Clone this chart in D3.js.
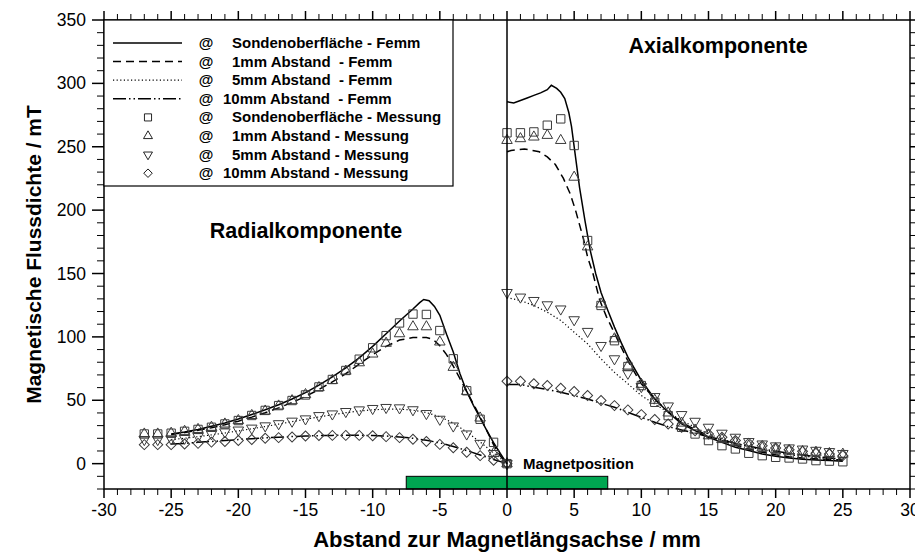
<!DOCTYPE html>
<html>
<head>
<meta charset="utf-8">
<script src="https://cdn.jsdelivr.net/npm/d3@7"></script>
<style>
  html, body { margin: 0; padding: 0; background: #fff; }
  svg { display: block; font-family: "Liberation Sans", Arial, sans-serif; }
</style>
</head>
<body>
<svg id="chart" width="915" height="553"></svg>
<script>
// ---- Measurement positions (mm) ----
const radialX = [-27,-26,-25,-24,-23,-22,-21,-20,-19,-18,-17,-16,-15,-14,-13,-12,-11,-10,-9,-8,-7,-6,-5,-4,-3,-2,-1,0];
const axialX  = [0,1,2,3,4,5,6,7,8,9,10,11,12,13,14,15,16,17,18,19,20,21,22,23,24,25];

// ---- Measured flux density (mT), radial component ----
const measSurfaceRadial = [23.4,23.4,24,25.5,27,28.7,31.3,34,38,42,45.8,49.8,54.2,60.5,66.4,73.5,82.4,91.4,101,111,118,117.7,105,82.7,57.5,35,16.8,0];
const meas1mmRadial     = [23.4,23.4,24,25.5,27,28.7,31.3,34,38,41.5,45.5,49.7,54.5,60,65.6,73,79.6,86.5,95,102.5,108,108,96,76,57,36,8,0];
const meas5mmRadial     = [19,19,19.5,20,21.5,23.5,25,26.5,28,29.8,31.5,33.5,35.3,37.9,39.2,41.1,42.4,43.5,44.3,44,42.5,39.5,35,29.7,23.4,16,8,0];
const meas10mmRadial    = [15,15,15,15.5,16,17,17.5,18.3,19,20,20.5,21,21.8,22.2,22.3,22.3,22.3,22,21.3,20.5,19.3,17.5,15.2,12.5,9,6.3,2.7,0];

// ---- Measured flux density (mT), axial component ----
const measSurfaceAxial = [261,261,261.7,267,272,251,176,124.8,97,76.6,61.6,48.4,37.9,28.7,23.4,18.2,14.2,11.6,8.2,6.3,5,4.5,3.7,2.4,2,1.5];
const meas1mmAxial     = [255,256.4,257.7,259,255,226,171,126,98.5,77,62.6,50,40,32,26.5,22,19,16.5,14,12.5,11,10,9.5,9,8,7.5];
const meas5mmAxial     = [135,131.4,128.7,125.3,122,113.5,104.3,93.2,82.7,71.3,60.8,52.9,45.5,38.7,33.4,28.7,24,20.8,17.4,15.5,14,12.4,11.5,10.5,9.5,8];
const meas10mmAxial    = [65,65,63,61.6,59.5,56.9,53.7,49.8,45.8,42.4,38.7,34.8,31.3,28.7,26,23.4,20.8,18.2,16,14.2,12.4,11,9.7,8.2,7.6,6.3];

// ---- FEMM simulation curves, [x (mm), B (mT)] ----
const femmSurfaceRadial = [[-25,23.4],[-24,25],[-23,27],[-22,29.5],[-21,32],[-20,35.2],[-19,38.8],[-18,42.5],[-17,46.5],[-16,51],[-15,56],[-14,62],[-13,68.5],[-12,75.5],[-11,83.5],[-10,92.5],[-9,102.5],[-8,112.5],[-7,122],[-6.5,127],[-6.2,129.5],[-5.8,128.5],[-5.4,124],[-5,117],[-4.5,102],[-4,88],[-3.5,71],[-3,57],[-2.5,46],[-2,36],[-1.5,26],[-1,16.5],[-0.5,8],[0,0]];
const femm1mmRadial = [[-25,23],[-24,24.5],[-23,26.3],[-22,28.3],[-21,30.7],[-20,33.5],[-19,36.7],[-18,40.2],[-17,44],[-16,48.3],[-15,53],[-14,58.5],[-13,64.5],[-12,71],[-11,78.5],[-10,86],[-9,92.5],[-8,97.5],[-7,99.5],[-6,99.5],[-5.5,98],[-5,93],[-4.5,86],[-4,77],[-3.5,67],[-3,57],[-2.5,47],[-2,37],[-1.5,26],[-1,15],[-0.5,6],[0,0]];
const femm5mmRadial = [[-25,19],[-24,20],[-23,21.3],[-22,22.7],[-21,24.2],[-20,25.8],[-19,27.5],[-18,29.3],[-17,31.2],[-16,33.1],[-15,35],[-14,36.9],[-13,38.6],[-12,40.2],[-11,41.5],[-10,42.5],[-9,43],[-8,43],[-7,42.2],[-6,40.3],[-5,37],[-4,32],[-3,25],[-2,17],[-1,8.5],[0,0]];
const femm10mmRadial = [[-25,15.5],[-24,16],[-23,16.8],[-22,17.5],[-21,18.2],[-20,19],[-19,19.7],[-18,20.3],[-17,20.9],[-16,21.4],[-15,21.8],[-14,22.1],[-13,22.3],[-12,22.4],[-11,22.4],[-10,22.2],[-9,21.8],[-8,21.1],[-7,20],[-6,18.5],[-5,16.4],[-4,13.6],[-3,10.3],[-2,6.8],[-1,3.3],[0,0]];

const femmSurfaceAxial = [[0,285.5],[0.5,284.5],[1,286.5],[1.5,288.5],[2,290.5],[2.5,292.5],[3,295],[3.3,298.5],[3.7,296],[4,293],[4.3,288],[4.6,277],[4.8,266],[5.1,242],[5.4,218],[5.8,192],[6.2,168],[6.6,150],[7,135],[7.5,121],[8,107.7],[8.5,95.5],[9,84],[10,65.6],[11,51],[12,40.5],[13,31.3],[14,26],[15,20.8],[16,16.8],[17,12.9],[18,10.3],[19,7.6],[20,5.8],[21,4.5],[22,3.4],[23,2.9],[24,2.4],[25,1.9]];
const femm1mmAxial = [[0,246],[0.3,247],[1.3,248.3],[2.4,246],[3,242],[3.6,236],[4.2,225],[4.7,213],[5.1,200],[5.7,177],[6,163],[6.4,150],[6.9,129],[7.4,116],[8,103],[9,81],[10,63],[11,51],[12,41],[13,32.5],[14,27],[15,22],[16,18],[17,14.5],[18,11.5],[19,9],[20,7],[21,5.5],[22,4.5],[23,3.8],[24,3.2],[25,2.8]];
const femm5mmAxial = [[0,131],[1,128.7],[2,124.8],[3,119.5],[4,113],[5,103.7],[6,94.5],[7,82.7],[8,72],[9,63],[10,53.7],[11,47],[12,40.5],[13,34],[14,28.7],[15,23.4],[16,19.5],[17,16],[18,13.4],[19,10.8],[20,8.9],[21,7.1],[22,5.8],[23,5],[24,3.7],[25,2.9]];
const femm10mmAxial = [[0,62.4],[1,62.4],[2,60.3],[3,58.5],[4,56.3],[5,53.7],[6,51],[7,47.6],[8,44.5],[9,40.5],[10,36.6],[11,32.6],[12,29.2],[13,26.6],[14,24],[15,21.3],[16,18.7],[17,16],[18,14],[19,11.6],[20,9.7],[21,8.2],[22,6.9],[23,5.5],[24,4.5],[25,3.4]];

// ---- Magnet extent (mm) and axis ticks ----
const magnetExtent = [-7.5, 7.5];
const magnetBand = [-20, -10];
const xTickLabels = [-30,-25,-20,-15,-10,-5,0,5,10,15,20,25,30];
const yTickLabels = [0,50,100,150,200,250,300,350];

// ---- Legend entries ----
const legendLabels = [
  "Sondenoberfläche - Femm",
  "1mm Abstand  - Femm",
  "5mm Abstand  - Femm",
  "10mm Abstand  - Femm",
  "Sondenoberfläche - Messung",
  "1mm Abstand - Messung",
  "5mm Abstand - Messung",
  "10mm Abstand - Messung"
];

// ---- Layout ----
const W = 915, H = 553;
const m = { left: 104, right: 5, top: 20, bottom: 64 };
const x = d3.scaleLinear().domain([-30, 30]).range([m.left, W - m.right]);
const y = d3.scaleLinear().domain([-20, 350]).range([H - m.bottom, m.top]);

const svg = d3.select("#chart");

// line styles per distance
const lineStyles = [
  { dash: null },
  { dash: "8,5" },
  { dash: "1.2,2.4" },
  { dash: "13,3,1.5,3,1.5,3" }
];

// marker shapes per distance
const sq = d3.symbol().type(d3.symbolSquare);
const tri = d3.symbol().type(d3.symbolTriangle);
const markers = [
  { path: sq.size(70)(), rot: 0 },
  { path: tri.size(48)(), rot: 0 },
  { path: tri.size(48)(), rot: 180 },
  { path: sq.size(50)(), rot: 45 }
];

// Magnet bar
svg.append("rect")
  .attr("x", x(magnetExtent[0]))
  .attr("y", y(magnetBand[1]))
  .attr("width", x(magnetExtent[1]) - x(magnetExtent[0]))
  .attr("height", y(magnetBand[0]) - y(magnetBand[1]))
  .attr("fill", "#00a651")
  .attr("stroke", "#000")
  .attr("stroke-width", 1);

// Simulation curves
const line = d3.line().x(d => x(d[0])).y(d => y(d[1]));
const femmSeries = [
  [femmSurfaceRadial, femmSurfaceAxial],
  [femm1mmRadial, femm1mmAxial],
  [femm5mmRadial, femm5mmAxial],
  [femm10mmRadial, femm10mmAxial]
];
femmSeries.forEach((pair, i) => {
  pair.forEach(seg => {
    svg.append("path")
      .attr("d", line(seg))
      .attr("fill", "none")
      .attr("stroke", "#000")
      .attr("stroke-width", i === 2 ? 1.2 : 1.5)
      .attr("stroke-dasharray", lineStyles[i].dash);
  });
});

// Measured points
const measSeries = [
  [measSurfaceRadial, measSurfaceAxial],
  [meas1mmRadial, meas1mmAxial],
  [meas5mmRadial, meas5mmAxial],
  [meas10mmRadial, meas10mmAxial]
];
measSeries.forEach((pair, i) => {
  const pts = radialX.map((xv, k) => [xv, pair[0][k]])
    .concat(axialX.map((xv, k) => [xv, pair[1][k]]));
  svg.append("g").selectAll("path")
    .data(pts)
    .join("path")
    .attr("d", markers[i].path)
    .attr("transform", d => `translate(${x(d[0])},${y(d[1])}) rotate(${markers[i].rot})`)
    .attr("fill", "none")
    .attr("stroke", "#3a3a3a")
    .attr("stroke-width", 1);
});

// Magnet axis line at x = 0
svg.append("line")
  .attr("x1", x(0)).attr("x2", x(0))
  .attr("y1", y(350)).attr("y2", y(-20))
  .attr("stroke", "#000").attr("stroke-width", 1.5);

// Frame
svg.append("rect")
  .attr("x", x(-30)).attr("y", y(350))
  .attr("width", x(30) - x(-30)).attr("height", y(-20) - y(350))
  .attr("fill", "none").attr("stroke", "#000").attr("stroke-width", 1.5);

// Axes with major/minor ticks on all four sides
const xMinor = d3.range(-30, 31, 1);
const yMinor = d3.range(-20, 351, 10);
const tickFont = "17.5px";

function xAxisTicks(orient, yPos) {
  const g = svg.append("g").attr("transform", `translate(0,${yPos})`);
  const dir = orient === "bottom" ? 1 : -1;
  g.selectAll("line").data(xMinor).join("line")
    .attr("x1", d => x(d)).attr("x2", d => x(d))
    .attr("y1", 0).attr("y2", d => dir * (d % 5 === 0 ? 9 : 6))
    .attr("stroke", "#000").attr("stroke-width", d => d % 5 === 0 ? 1.5 : 1);
}
function yAxisTicks(orient, xPos) {
  const g = svg.append("g").attr("transform", `translate(${xPos},0)`);
  const dir = orient === "left" ? -1 : 1;
  g.selectAll("line").data(yMinor).join("line")
    .attr("y1", d => y(d)).attr("y2", d => y(d))
    .attr("x1", 0).attr("x2", d => dir * (d % 50 === 0 ? 12 : 7))
    .attr("stroke", "#000").attr("stroke-width", d => d % 50 === 0 ? 1.5 : 1);
}
xAxisTicks("bottom", y(-20));
xAxisTicks("top", y(350));
yAxisTicks("left", x(-30));
yAxisTicks("right", x(30));

// Tick labels
svg.append("g").selectAll("text").data(xTickLabels).join("text")
  .attr("x", d => x(d)).attr("y", y(-20) + 27)
  .attr("text-anchor", "middle")
  .style("font-size", tickFont)
  .text(d => d);
svg.append("g").selectAll("text").data(yTickLabels).join("text")
  .attr("x", x(-30) - 18).attr("y", d => y(d) + 6)
  .attr("text-anchor", "end")
  .style("font-size", tickFont)
  .text(d => d);

// Axis titles
svg.append("text")
  .attr("x", x(0)).attr("y", 547)
  .attr("text-anchor", "middle")
  .style("font-size", "22px").style("font-weight", "bold")
  .text("Abstand zur Magnetlängsachse / mm");
svg.append("text")
  .attr("transform", `translate(41,${(y(350) + y(-20)) / 2}) rotate(-90)`)
  .attr("text-anchor", "middle")
  .style("font-size", "21px").style("font-weight", "bold")
  .text("Magnetische Flussdichte / mT");

// Annotations
svg.append("text").attr("x", 718).attr("y", 53).attr("text-anchor", "middle")
  .style("font-size", "21.5px").style("font-weight", "bold").text("Axialkomponente");
svg.append("text").attr("x", 306).attr("y", 238).attr("text-anchor", "middle")
  .style("font-size", "21.5px").style("font-weight", "bold").text("Radialkomponente");
svg.append("text").attr("x", x(0) + 16).attr("y", 469)
  .style("font-size", "15px").style("font-weight", "bold").text("Magnetposition");

// Legend
const lg = svg.append("g");
lg.append("rect")
  .attr("x", x(-30)).attr("y", y(350))
  .attr("width", 349).attr("height", 166)
  .attr("fill", "#fff").attr("stroke", "#000").attr("stroke-width", 1.2);
legendLabels.forEach((label, i) => {
  const cy = 43 + i * 18.6;
  if (i < 4) {
    lg.append("line")
      .attr("x1", 113).attr("x2", 182).attr("y1", cy).attr("y2", cy)
      .attr("stroke", "#000").attr("stroke-width", i === 2 ? 1.2 : 1.5)
      .attr("stroke-dasharray", lineStyles[i].dash);
  } else {
    const mk = markers[i - 4];
    lg.append("path")
      .attr("d", mk.path)
      .attr("transform", `translate(148,${cy}) rotate(${mk.rot}) scale(0.85)`)
      .attr("fill", "none").attr("stroke", "#000").attr("stroke-width", 1);
  }
  lg.append("text").attr("x", 206).attr("y", cy + 5).attr("text-anchor", "middle")
    .style("font-size", "15px").style("font-weight", "bold").text("@");
  lg.append("text").attr("x", label.startsWith("10") ? 223 : 232).attr("y", cy + 5)
    .attr("xml:space", "preserve")
    .style("white-space", "pre")
    .style("font-size", "15px").style("font-weight", "bold").text(label);
});
</script>
</body>
</html>
